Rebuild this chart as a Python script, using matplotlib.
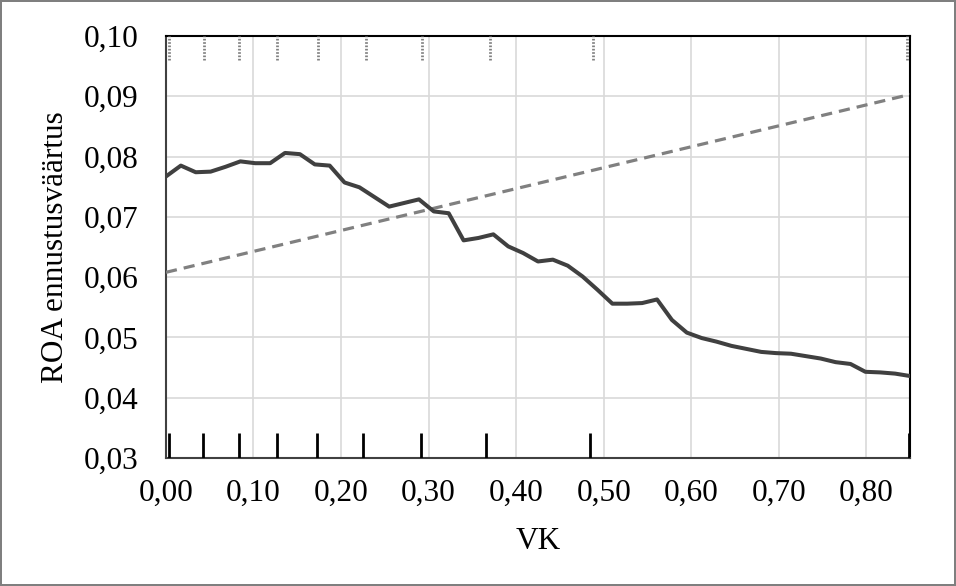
import matplotlib.pyplot as plt
from matplotlib.ticker import FuncFormatter, MultipleLocator

# predicted ROA along VK
vk = [0.000, 0.017, 0.034, 0.051, 0.068, 0.085, 0.102, 0.119, 0.136, 0.153,
      0.170, 0.187, 0.204, 0.221, 0.238, 0.255, 0.272, 0.289, 0.306, 0.323,
      0.340, 0.357, 0.374, 0.391, 0.408, 0.425, 0.442, 0.459, 0.476, 0.493,
      0.510, 0.527, 0.544, 0.561, 0.578, 0.595, 0.612, 0.629, 0.646, 0.663,
      0.680, 0.697, 0.714, 0.731, 0.748, 0.765, 0.782, 0.799, 0.816, 0.833,
      0.850]
roa = [0.0767, 0.0785, 0.0774, 0.0775, 0.0783, 0.0792, 0.0789, 0.0789, 0.0806, 0.0804,
       0.0787, 0.0785, 0.0757, 0.0749, 0.0733, 0.0717, 0.0723, 0.0729, 0.0709, 0.0706,
       0.0661, 0.0665, 0.0671, 0.0651, 0.0640, 0.0626, 0.0629, 0.0619, 0.0601, 0.0579,
       0.0556, 0.0556, 0.0557, 0.0563, 0.0529, 0.0508, 0.0499, 0.0493, 0.0486, 0.0481,
       0.0476, 0.0474, 0.0473, 0.0469, 0.0465, 0.0459, 0.0456, 0.0443, 0.0442, 0.0440,
       0.0436]

# linear fit (dashed)
lin_x = [0.0, 0.85]
lin_y = [0.0608, 0.0903]

# rug marks
rug_bottom = [0.004, 0.042, 0.083, 0.127, 0.173, 0.225, 0.291, 0.366, 0.484, 0.849]
rug_top = [0.004, 0.043, 0.083, 0.127, 0.174, 0.228, 0.292, 0.370, 0.488, 0.847]

plt.rcParams['font.family'] = ['Liberation Serif', 'DejaVu Serif']

fig = plt.figure(figsize=(9.56, 5.86), dpi=100)
fig.patch.set_edgecolor('#7f7f7f')
fig.patch.set_linewidth(1.5)
ax = fig.add_axes([0.1736, 0.2184, 0.7783, 0.7202])

ax.set_xlim(0, 0.85)
ax.set_ylim(0.03, 0.10)
ax.xaxis.set_major_locator(MultipleLocator(0.1))
ax.yaxis.set_major_locator(MultipleLocator(0.01))
fmt = FuncFormatter(lambda v, p: ('%.2f' % v).replace('.', ','))
ax.xaxis.set_major_formatter(fmt)
ax.yaxis.set_major_formatter(fmt)
ax.tick_params(length=0, labelsize=22.5)
ax.tick_params(axis='x', pad=15)
ax.tick_params(axis='y', pad=20)
ax.grid(True, color='#d9d9d9', linewidth=1.2)
ax.set_axisbelow(True)

for s in ['left', 'bottom']:
    ax.spines[s].set_color('#404040')
    ax.spines[s].set_linewidth(1.5)
for s in ['top', 'right']:
    ax.spines[s].set_color('black')
    ax.spines[s].set_linewidth(1.5)

ax.plot(lin_x, lin_y, color='#808080', linewidth=2.3, dashes=(3.5, 2.2), zorder=3)
ax.plot(vk, roa, color='#404040', linewidth=2.9, zorder=4, clip_on=True)

ax.vlines(rug_bottom, 0.03, 0.0341, color='black', linewidth=2, zorder=5)
ax.vlines(rug_top, 0.096, 0.10, color='#808080', linewidth=2,
          linestyles=(0, (0.6, 0.6)), zorder=5)

ax.set_xlabel('VK', fontsize=22.5, labelpad=14)
ax.set_ylabel('ROA ennustusväärtus', fontsize=22.5, labelpad=10)

fig.savefig('out.png', dpi=100)
